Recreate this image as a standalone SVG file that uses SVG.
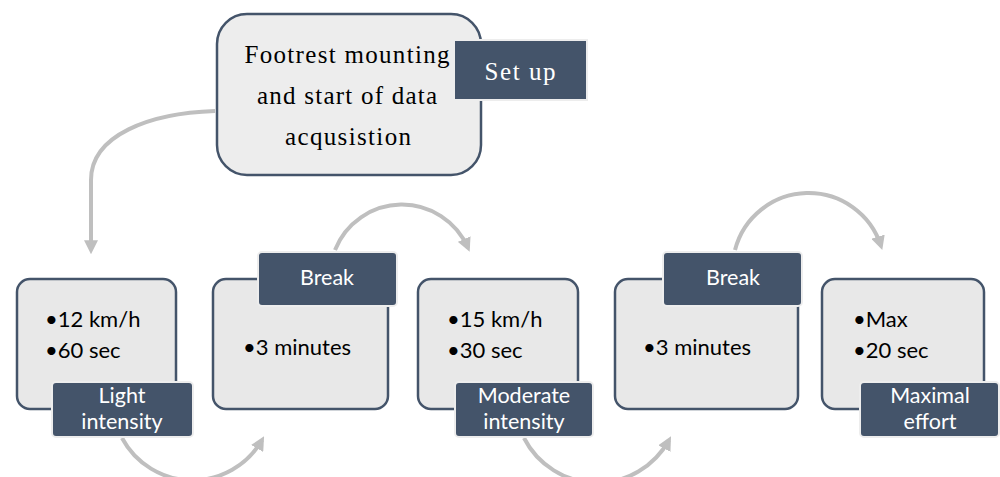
<svg xmlns="http://www.w3.org/2000/svg" width="1000" height="477" viewBox="0 0 1000 477">
<style>
.box{fill:#E8E8E8;stroke:#44546A;stroke-width:2.5}
.top{fill:#EDEDED;stroke:#44546A;stroke-width:2.5}
.tab{fill:#44546A;stroke:#EDEDED;stroke-width:2}
.conn{fill:none;stroke:#BFBFBF;stroke-width:4}
.b{font-family:Lato,"Open Sans",sans-serif;font-size:22px;fill:#000}
.t{font-family:Lato,"Open Sans",sans-serif;font-size:21.5px;fill:#FFFFFF;text-anchor:middle}
.s{font-family:"Liberation Serif","DejaVu Serif",serif;font-size:25px;fill:#000;text-anchor:middle}
.st{font-family:"Liberation Serif","DejaVu Serif",serif;font-size:25px;fill:#FFFFFF;text-anchor:middle}
</style>
<defs>
<marker id="ah" viewBox="0 0 10 10" refX="7" refY="5" markerWidth="3.5" markerHeight="3.5" orient="auto" markerUnits="strokeWidth">
<path d="M0,0 L10,5 L0,10 z" fill="#BFBFBF"/>
</marker>
</defs>
<rect width="1000" height="477" fill="#FFFFFF"/>
<g id="connectors">
<path class="conn" d="M215,111 C150,113 91,135 91,180 L91,250" marker-end="url(#ah)"/>
<path class="conn" d="M335,250 A72,72 0 0 1 468,248" marker-end="url(#ah)"/>
<path class="conn" d="M735,250 A76,76 0 0 1 881,246" marker-end="url(#ah)"/>
<path class="conn" d="M122,438 A80,80 0 0 0 262,440" marker-end="url(#ah)"/>
<path class="conn" d="M524,438 A82,82 0 0 0 669,440" marker-end="url(#ah)"/>
</g>
<g id="setup">
<rect class="top" x="217" y="14" width="264" height="161" rx="30"/>
<text class="s" x="347" y="63" textLength="205" lengthAdjust="spacing">Footrest mounting</text>
<text class="s" x="347" y="104" textLength="180" lengthAdjust="spacing">and start of data</text>
<text class="s" x="348" y="145" textLength="126" lengthAdjust="spacing">acqusistion</text>
<rect class="tab" x="454" y="40" width="133" height="60"/>
<text class="st" x="520" y="80" textLength="71" lengthAdjust="spacing">Set up</text>
</g>
<g id="light">
<rect class="box" x="17" y="279" width="159" height="130" rx="13"/>
<text class="b" x="45" y="327">•12 km/h</text>
<text class="b" x="45" y="358">•60 sec</text>
<rect class="tab" x="52" y="382" width="141" height="55" rx="4"/>
<text class="t" x="122" y="403">Light</text>
<text class="t" x="122" y="429">intensity</text>
</g>
<g id="break1">
<rect class="box" x="213" y="279" width="175" height="130" rx="13"/>
<text class="b" x="243" y="355">•3 minutes</text>
<rect class="tab" x="258" y="252" width="139" height="54" rx="4"/>
<text class="t" x="327" y="285">Break</text>
</g>
<g id="moderate">
<rect class="box" x="418" y="279" width="160" height="130" rx="13"/>
<text class="b" x="447" y="327">•15 km/h</text>
<text class="b" x="447" y="358">•30 sec</text>
<rect class="tab" x="455" y="382" width="138" height="55" rx="4"/>
<text class="t" x="524" y="403">Moderate</text>
<text class="t" x="524" y="429">intensity</text>
</g>
<g id="break2">
<rect class="box" x="615" y="279" width="183" height="130" rx="13"/>
<text class="b" x="643" y="355">•3 minutes</text>
<rect class="tab" x="663" y="252" width="139" height="54" rx="4"/>
<text class="t" x="733" y="285">Break</text>
</g>
<g id="maximal">
<rect class="box" x="822" y="279" width="162" height="130" rx="13"/>
<text class="b" x="853" y="327">•Max</text>
<text class="b" x="853" y="358">•20 sec</text>
<rect class="tab" x="860" y="382" width="139" height="55" rx="4"/>
<text class="t" x="930" y="403">Maximal</text>
<text class="t" x="930" y="429">effort</text>
</g>
</svg>
